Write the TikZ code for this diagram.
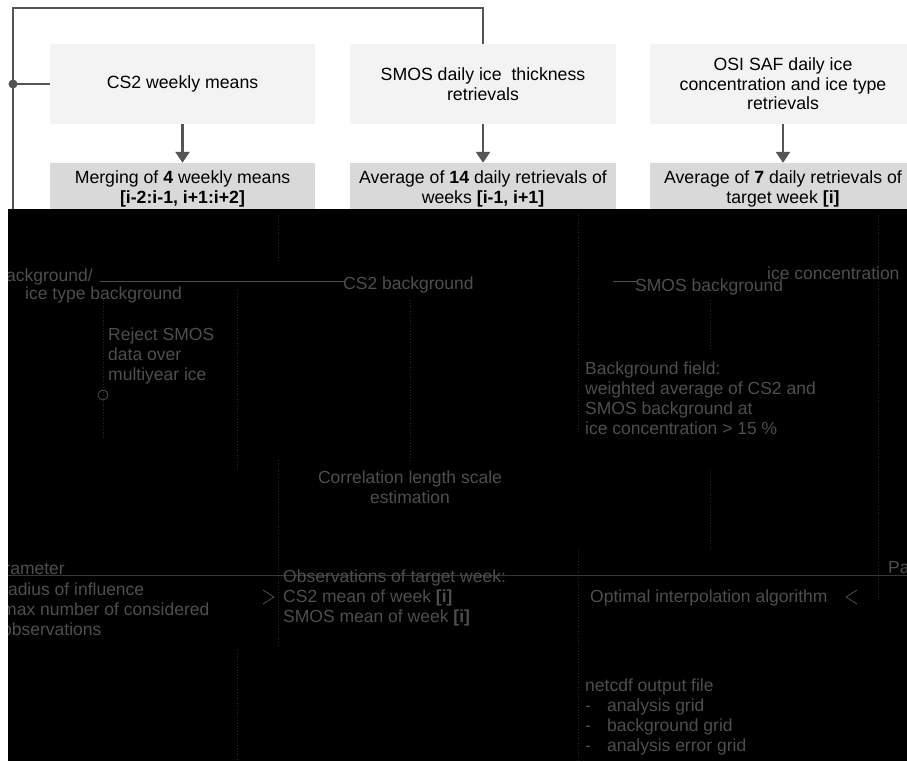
\documentclass[tikz,border=0pt]{standalone}
\usepackage{fontspec}
\setmainfont{Liberation Sans}
\usetikzlibrary{arrows.meta}
\definecolor{linegray}{RGB}{85,85,85}
\definecolor{boxlight}{RGB}{243,243,243}
\definecolor{boxdark}{RGB}{217,217,217}
\definecolor{faint}{RGB}{78,78,78}
\definecolor{faintline}{RGB}{38,38,38}
\definecolor{faintrule}{RGB}{58,58,44}
\begin{document}
\begin{tikzpicture}[x=1pt,y=-1pt,
  mainfont/.style={font=\fontsize{17.7}{19.5}\selectfont},
  topbox/.style={mainfont, fill=boxlight, minimum width=265pt, minimum height=80pt, inner sep=0pt, align=center},
  lowbox/.style={mainfont, fill=boxdark, minimum width=265pt, minimum height=52pt, inner sep=0pt, align=center},
  conn/.style={draw=linegray, line width=2.6pt},
  arr/.style={conn, -{Triangle[width=14pt,length=11pt]}},
  ftext/.style={text=faint, font=\fontsize{17.5}{20}\selectfont, inner sep=0pt, align=left},
  fdots/.style={draw=faintline, line width=0.8pt, dotted},
]
\useasboundingbox[fill=white] (0,0) rectangle (907,761);

% top row
\node[topbox] (cs2) at (182.5,84) {CS2 weekly means};
\node[topbox, minimum width=266pt] (smos) at (483,84) {SMOS daily ice~ thickness\\retrievals};
\node[topbox, minimum width=266pt] (osi) at (783,84) {OSI SAF daily ice\\concentration and ice type\\retrievals};

% second row
\node[lowbox] (cs2m) at (182.5,189) {Merging of \textbf{4} weekly means\\\textbf{[i-2:i-1, i+1:i+2]}};
\node[lowbox, minimum width=266pt] (smosa) at (483,189) {Average of \textbf{14} daily retrievals of\\weeks \textbf{[i-1, i+1]}};
\node[lowbox, minimum width=266pt] (osia) at (783,189) {Average of \textbf{7} daily retrievals of\\target week \textbf{[i]}};

\draw[arr] (cs2) -- (cs2m);
\draw[arr] (smos) -- (smosa);
\draw[arr] (osi) -- (osia);

% feedback connector on the left
\coordinate (dot) at (13,84);
\coordinate (tl) at (13,8);
\coordinate (tr) at (483,8);
\coordinate (lb) at (13,215);
\draw[conn] (smos.north) -- (tr) -- (tl) -- (lb);
\draw[conn] (cs2.west) -- (dot);
\fill[linegray] (dot) circle (4.5pt);

% dark lower area
\fill[black] (8,209) rectangle (907,761);
\begin{scope}
\clip (8,209) rectangle (907,761);
% faint dotted traces
\draw[fdots] (103,300) -- (103,440);
\draw[fdots] (237,290) -- (237,470);
\draw[fdots] (237,650) -- (237,761);
\draw[fdots] (278,215) -- (278,260);
\draw[fdots] (278,460) -- (278,645);
\draw[fdots] (410,300) -- (410,460);
\draw[fdots] (578,215) -- (578,432);
\draw[fdots] (578,550) -- (578,761);
\draw[fdots] (710,300) -- (710,350);
\draw[fdots] (710,470) -- (710,550);
\draw[fdots] (878,215) -- (878,600);
% faint rules
\draw[draw=faintrule, line width=0.9pt] (8,575) -- (907,575);
\draw[draw=faint, line width=0.9pt] (100,281) -- (345,281);
\draw[draw=faint, line width=0.9pt] (613,281) -- (637,281);
% faint texts
\node[ftext, anchor=base east] (bgl1) at (93,281) {background/};
\node[ftext, anchor=base west] (bgl2) at (25,299) {ice type background};
\node[ftext, anchor=base west] (cs2bg) at (343,289) {CS2 background};
\node[ftext, anchor=base west] (smosbg) at (635,291) {SMOS background};
\node[ftext, anchor=base west] (icec) at (767,279) {ice concentration};
\node[ftext, anchor=west] (reject) at (108,356) {Reject SMOS\\data over\\multiyear ice};
\draw[draw=faint, line width=0.8pt] (103,395) circle (5pt);
\node[ftext, anchor=west] (bgfield) at (585,398) {Background field:\\weighted average of CS2 and\\SMOS background at\\ice concentration > 15 \%};
\node[ftext, align=center] (corr) at (410,487) {Correlation length scale\\estimation};
\node[ftext, anchor=base east] (parl) at (65,574) {Parameter};
\node[ftext, anchor=west] (parlist) at (2,609) {radius of influence\\max number of considered\\observations};
\node[ftext, anchor=west] (obs) at (283,598) {Observations of target week:\\CS2 mean of week \textbf{[i]}\\SMOS mean of week \textbf{[i]}};
\draw[draw=faint, line width=0.8pt] (263,590) -- (274,597) -- (263,604);
\node[ftext, anchor=west] (oi) at (590,598) {Optimal interpolation algorithm};
\draw[draw=faint, line width=0.8pt] (857,590) -- (846,597) -- (857,604);
\node[ftext, anchor=base west] (parr) at (888,573) {Parameter};
\node[ftext, anchor=west] (out) at (585,717) {netcdf output file\\\makebox[22pt][l]{-}analysis grid\\\makebox[22pt][l]{-}background grid\\\makebox[22pt][l]{-}analysis error grid};
\end{scope}
\end{tikzpicture}
\end{document}
